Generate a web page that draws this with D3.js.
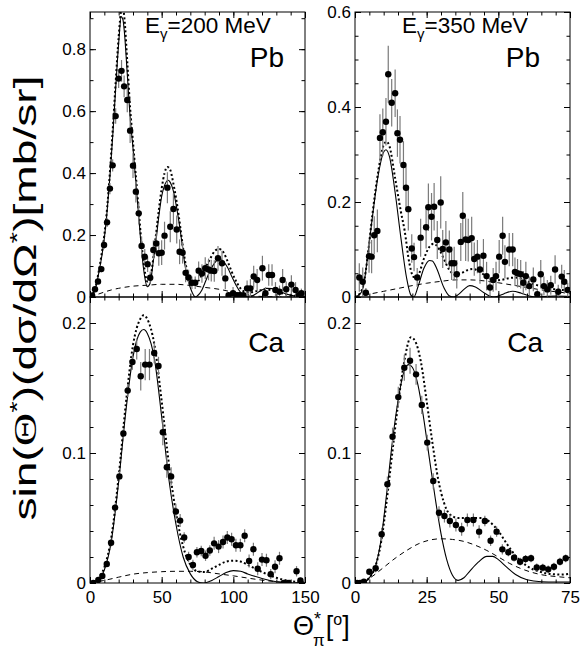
<!DOCTYPE html>
<html>
<head>
<meta charset="utf-8">
<script src="https://cdn.jsdelivr.net/npm/d3@7"></script>
<style>
  body { margin: 0; background: #fff; }
  svg { display: block; }
  text { font-family: "Liberation Sans", Arial, sans-serif; fill: #000; }
</style>
</head>
<body>
<svg id="chart" width="580" height="650"></svg>
<script>
(function () {
  'use strict';

  // ---- tick labels ----
  var xTicks200 = [0, 50, 100, 150];
  var xTicks350 = [0, 25, 50, 75];
  var yTicksPb200 = [0, 0.2, 0.4, 0.6, 0.8];
  var yTicksPb350 = [0, 0.2, 0.4, 0.6];
  var yTicksCa = [0, 0.1, 0.2];

  // ---- measured points: [theta, value, error] ----
  var pb200Points = [
    [1.5,0.005,0.004],[3.5,0.025,0.006],[5.6,0.05,0.008],[7.9,0.09,0.01],[9.8,0.168,0.012],
    [11.9,0.241,0.015],[13.9,0.35,0.018],[15.8,0.425,0.02],[17.9,0.584,0.025],[20,0.705,0.03],
    [22,0.73,0.035],[23.8,0.68,0.035],[26,0.636,0.04],[28,0.537,0.04],[30,0.424,0.04],
    [32,0.34,0.035],[34,0.27,0.035],[36,0.165,0.03],[38.2,0.13,0.025],[40.2,0.106,0.025],
    [42,0.062,0.02],[44.2,0.152,0.03],[46.2,0.173,0.035],[48,0.141,0.04],[50,0.143,0.04],
    [52,0.198,0.045],[54,0.353,0.05],[56,0.227,0.05],[58.2,0.284,0.05],[60.5,0.218,0.045],
    [62.5,0.146,0.04],[64.6,0.143,0.035],[66.7,0.078,0.03],[68.8,0.063,0.025],[71.1,0.046,0.02],
    [73.4,0.046,0.02],[75.8,0.085,0.03],[78.1,0.076,0.03],[80.4,0.093,0.035],[82.7,0.089,0.035],
    [84.6,0.085,0.035],[86.7,0.084,0.035],[89.3,0.125,0.04],[92.1,0.109,0.04],[94.4,0.06,0.035],
    [96.7,0.006,0.01],[99.8,0.012,0.02],[102.5,0.006,0.01],[104.4,0.006,0.012],[107,0.006,0.01],
    [109.6,0.028,0.025],[111.9,0.028,0.03],[114.2,0.066,0.035],[116.6,0.055,0.035],[120.3,0.093,0.04],
    [122.4,0.012,0.02],[124.7,0.071,0.035],[127,0.071,0.035],[129.4,0.023,0.025],[132.2,0.017,0.02],
    [134.4,0.055,0.035],[136.9,0.025,0.025],[140.5,0.04,0.03],[143.4,0.023,0.025],[145.7,0.006,0.015],
    [147.5,0.012,0.015]
  ];
  var pb350Points = [
    [1.5,0.041,0.03],[2.7,0.032,0.03],[3.8,0.009,0.01],[4.9,0.086,0.035],[5.8,0.085,0.035],
    [6.7,0.13,0.04],[7.8,0.139,0.045],[8.7,0.335,0.05],[9.7,0.347,0.05],[10.8,0.369,0.05],
    [11.6,0.469,0.06],[12.8,0.409,0.05],[14,0.429,0.05],[14.8,0.345,0.05],[15.7,0.331,0.05],
    [16.9,0.278,0.05],[17.8,0.23,0.045],[18.6,0.185,0.045],[19.8,0.102,0.03],[20.6,0.084,0.03],
    [21.7,0.041,0.02],[22.9,0.125,0.04],[24.8,0.147,0.045],[25.6,0.189,0.05],[26.7,0.169,0.05],
    [27.6,0.19,0.05],[28.7,0.12,0.04],[29.9,0.199,0.055],[30.6,0.101,0.04],[31.7,0.115,0.045],
    [32.9,0.1,0.04],[33.7,0.071,0.035],[34.6,0.071,0.035],[35.5,0.048,0.03],[36.9,0.116,0.04],
    [37.6,0.171,0.05],[38.6,0.121,0.045],[39.5,0.12,0.045],[40.7,0.124,0.045],[41.6,0.08,0.035],
    [42.7,0.085,0.035],[43.6,0.058,0.03],[44.8,0.087,0.035],[45.9,0.044,0.03],[47.1,0.02,0.02],
    [48.2,0.036,0.025],[49.2,0.044,0.03],[50.3,0.085,0.035],[51.5,0.129,0.04],[52.3,0.074,0.035],
    [53.8,0.1,0.035],[55,0.1,0.035],[55.8,0.053,0.03],[56.7,0.05,0.03],[57.8,0.048,0.03],
    [58.7,0.03,0.025],[59.6,0.044,0.03],[60.8,0.023,0.02],[62.2,0.037,0.025],[63.6,0.006,0.01],
    [64.8,0.048,0.03],[65.9,0.023,0.02],[67.1,0.016,0.02],[68.3,0.025,0.02],[69.8,0.058,0.03],
    [70.9,0.011,0.015],[72.1,0.043,0.025],[73,0.032,0.025],[74.2,0.015,0.015]
  ];
  var ca200Points = [
    [2.3,0,0.001],[5.8,0.0023,0.0015],[8.6,0.0054,0.002],[11.7,0.0146,0.002],[14.7,0.031,0.003],
    [17.5,0.058,0.003],[20.5,0.082,0.004],[23.3,0.115,0.004],[26.3,0.148,0.005],[29.6,0.17,0.006],
    [32.6,0.18,0.008],[35.4,0.159,0.011],[38.5,0.168,0.012],[41.5,0.168,0.012],[44.8,0.177,0.008],
    [47.8,0.167,0.007],[50.8,0.116,0.01],[53.6,0.089,0.008],[56.6,0.082,0.007],[59.9,0.055,0.006],
    [62.9,0.048,0.005],[65.7,0.035,0.004],[68.8,0.02,0.004],[71.8,0.0138,0.004],[74.6,0.0236,0.004],
    [77.6,0.0246,0.004],[80.6,0.021,0.004],[83.6,0.025,0.004],[86.6,0.0305,0.005],[89.7,0.028,0.005],
    [92.8,0.0315,0.005],[95.8,0.035,0.005],[98.8,0.0336,0.005],[101.8,0.029,0.005],[104.9,0.029,0.005],
    [107.9,0.0364,0.005],[111,0.017,0.005],[114,0.026,0.005],[117,0.011,0.005],[120,0.018,0.005],
    [123.1,0.0175,0.005],[126.1,0.0068,0.004],[129.1,0.0125,0.005],[132.2,0.019,0.005],[135.2,0,0.001],
    [138.2,0,0.001],[144.1,0.009,0.004],[146.8,0.002,0.002]
  ];
  var ca350Points = [
    [0.7,0,0.001],[1.8,0,0.001],[3.1,0.001,0.001],[5,0.0087,0.002],[7.2,0.0113,0.003],
    [9.3,0.0375,0.005],[11.3,0.076,0.006],[13.1,0.1125,0.007],[15.1,0.143,0.008],[17.2,0.1656,0.01],
    [19.2,0.171,0.01],[21.3,0.1605,0.008],[23.3,0.137,0.007],[25.2,0.108,0.006],[27.3,0.0785,0.006],
    [29.3,0.054,0.005],[31.2,0.0515,0.005],[33.1,0.0477,0.005],[35.2,0.0446,0.005],[37.2,0.0413,0.005],
    [39.2,0.0485,0.005],[41.3,0.0485,0.005],[43.3,0.0395,0.005],[45.3,0.0477,0.004],[47.3,0.0325,0.004],
    [49.4,0.0395,0.004],[51.4,0.0259,0.004],[53.5,0.0236,0.003],[55.5,0.0195,0.003],[57.6,0.0164,0.003],
    [59.5,0.0185,0.003],[61.4,0.019,0.003],[63.4,0.012,0.003],[65.5,0.0118,0.003],[67.4,0.0105,0.003],
    [69.4,0.0125,0.003],[71.5,0.0164,0.003],[73.5,0.019,0.003]
  ];

  // ---- model curves: [theta, value] ----
  var pb200Solid = [[0,0],[2,0.008],[4,0.03],[6,0.075],[8,0.125],[10,0.19],[12,0.28],[14,0.395],[16,0.53],
    [18,0.68],[20,0.82],[21.8,0.905],[23,0.895],[24,0.855],[26,0.72],[28,0.58],[30,0.48],[32,0.37],
    [34,0.26],[36,0.15],[38,0.07],[40,0.033],[42,0.045],[44,0.11],[46,0.18],[48,0.26],[50,0.325],
    [52,0.36],[54.5,0.377],[56,0.37],[58,0.345],[60,0.3],[62,0.245],[64,0.18],[66,0.11],[68,0.06],
    [70,0.03],[72,0.008],[73.5,0],[75,0.004],[78,0.022],[81,0.055],[84,0.087],[87,0.11],[90.5,0.125],
    [93,0.115],[96,0.095],[99,0.065],[102,0.037],[105,0.015],[108,0.003],[111,0],[115,0.008],
    [119,0.02],[123,0.028],[127,0.027],[131,0.021],[135,0.013],[140,0.006],[145,0.002],[150,0]];
  var pb200Dotted = [[0,0],[2,0.01],[4,0.035],[6,0.08],[8,0.135],[10,0.2],[12,0.29],[14,0.41],[16,0.55],
    [18,0.7],[20,0.84],[22,0.93],[23,0.935],[24,0.9],[26,0.76],[28,0.61],[30,0.5],[32,0.39],[34,0.28],
    [36,0.17],[38,0.09],[40,0.05],[42,0.06],[44,0.12],[46,0.2],[48,0.28],[50,0.35],[52,0.4],[54,0.42],
    [56,0.41],[58,0.37],[60,0.32],[62,0.26],[64,0.19],[66,0.125],[68,0.08],[70,0.052],[72,0.042],
    [74,0.045],[77,0.062],[80,0.09],[84,0.125],[87,0.148],[90,0.155],[93,0.145],[96,0.115],[99,0.08],
    [102,0.05],[105,0.028],[108,0.017],[112,0.015],[117,0.02],[122,0.024],[127,0.022],[132,0.015],
    [138,0.007],[144,0.003],[150,0.001]];
  var pb200Dashed = [[0,0],[5,0.008],[10,0.016],[15,0.023],[20,0.028],[30,0.035],[40,0.038],[50,0.041],
    [60,0.041],[70,0.037],[80,0.031],[90,0.025],[100,0.015],[107,0.007],[115,0.003],[125,0.001],
    [135,0],[150,0]];

  var pb350Solid = [[0,0],[2,0.008],[3,0.025],[4.5,0.09],[6,0.165],[8,0.253],[10,0.305],[10.8,0.31],
    [12,0.296],[14,0.22],[16,0.125],[18,0.04],[19.5,0.004],[20.5,0],[22,0.022],[24,0.06],[26,0.077],
    [27,0.076],[28.5,0.06],[31,0.02],[33,0.002],[34.5,0],[36,0.005],[38,0.016],[40,0.024],[42,0.021],
    [45,0.009],[47,0.002],[48.5,0],[50,0.002],[52,0.007],[55,0.012],[58,0.008],[61,0.002],[63,0],
    [66,0.001],[70,0.002],[75,0.001]];
  var pb350Dotted = [[0,0],[2,0.01],[3,0.027],[4.5,0.09],[6,0.17],[8,0.26],[10,0.32],[11,0.327],[12,0.318],
    [14,0.25],[16,0.18],[17.3,0.14],[19,0.07],[20.5,0.042],[22,0.046],[24,0.08],[26,0.106],[27.5,0.112],
    [29.5,0.099],[31,0.08],[33,0.056],[35,0.047],[37,0.05],[39,0.056],[41,0.059],[43,0.055],[45,0.047],
    [47,0.039],[49,0.035],[51,0.036],[54,0.04],[56,0.041],[59,0.036],[62,0.028],[66,0.021],[70,0.016],
    [75,0.014]];
  var pb350Dashed = [[0,0],[5,0.006],[10,0.012],[15,0.018],[20,0.024],[25,0.029],[30,0.033],[35,0.036],
    [40,0.036],[45,0.034],[50,0.03],[55,0.025],[60,0.02],[65,0.015],[70,0.011],[75,0.008]];

  var ca200Solid = [[0,0],[5,0.002],[10,0.01],[15,0.033],[20,0.078],[25,0.132],[30,0.174],[35,0.193],
    [37.5,0.195],[40,0.192],[45,0.172],[50,0.128],[55,0.08],[60,0.045],[65,0.02],[70,0.007],[75,0.001],
    [79,0],[85,0.002],[90,0.005],[95,0.008],[100,0.0095],[105,0.009],[110,0.007],[120,0.0035],
    [130,0.001],[140,0],[150,0]];
  var ca200Dotted = [[0,0],[5,0.003],[10,0.012],[15,0.036],[20,0.082],[25,0.138],[30,0.183],[35,0.203],
    [37.5,0.206],[40,0.203],[45,0.183],[50,0.14],[55,0.092],[60,0.054],[65,0.028],[70,0.014],[75,0.009],
    [80,0.0085],[85,0.011],[90,0.014],[95,0.0165],[100,0.0172],[105,0.0165],[110,0.014],[120,0.0085],
    [130,0.004],[140,0.0015],[150,0.0005]];
  var ca200Dashed = [[0,0],[10,0.002],[20,0.0045],[30,0.0068],[40,0.008],[50,0.0087],[60,0.009],
    [70,0.009],[80,0.0085],[90,0.007],[100,0.0055],[110,0.0038],[120,0.0022],[130,0.001],[140,0.0003],
    [150,0]];

  var ca350Solid = [[0,0],[3,0.001],[5,0.004],[7,0.012],[9,0.032],[11,0.068],[13,0.108],[15,0.14],
    [17,0.162],[18.7,0.168],[20,0.166],[22,0.152],[24,0.126],[26,0.095],[28,0.065],[30,0.038],
    [32,0.018],[34,0.006],[36,0.002],[38,0.004],[40,0.009],[43,0.016],[46,0.0205],[48,0.0205],
    [50,0.018],[53,0.012],[56,0.0065],[60,0.0025],[65,0.001],[70,0.0008],[75,0.0008]];
  var ca350Dotted = [[0,0],[3,0.001],[5,0.004],[7,0.012],[9,0.03],[11,0.062],[13,0.1],[15,0.137],
    [17,0.168],[19.5,0.189],[21,0.186],[23,0.17],[25,0.14],[27,0.108],[29,0.08],[31,0.062],[33,0.053],
    [36,0.05],[40,0.05],[44,0.05],[47,0.047],[50,0.04],[53,0.03],[56,0.021],[60,0.013],[64,0.009],
    [68,0.007],[72,0.0065],[75,0.007]];
  var ca350Dashed = [[0,0],[3,0.0005],[6,0.005],[10,0.012],[14,0.019],[18,0.025],[22,0.03],[26,0.033],
    [30,0.034],[34,0.0335],[38,0.032],[42,0.029],[46,0.025],[50,0.02],[54,0.015],[58,0.011],[62,0.008],
    [66,0.006],[70,0.005],[75,0.004]];

  var svg = d3.select('#chart');
  svg.append('rect').attr('width', 580).attr('height', 650).attr('fill', '#fff');

  var panels = [
    { pts: pb200Points, solid: pb200Solid, dotted: pb200Dotted, dashed: pb200Dashed,
      xMax: 150, xTicks: xTicks200, xMinor: 10, yMax: 0.92, yTicks: yTicksPb200, yMinor: 0.1,
      left: 90, right: 305, top: 12, bottom: 297, xLabels: false,
      target: 'Pb', energy: '200', energyX: 145, targetX: 284 },
    { pts: pb350Points, solid: pb350Solid, dotted: pb350Dotted, dashed: pb350Dashed,
      xMax: 75, xTicks: xTicks350, xMinor: 5, yMax: 0.6, yTicks: yTicksPb350, yMinor: 0.05,
      left: 355, right: 570, top: 12, bottom: 297, xLabels: false,
      target: 'Pb', energy: '350', energyX: 402, targetX: 540 },
    { pts: ca200Points, solid: ca200Solid, dotted: ca200Dotted, dashed: ca200Dashed,
      xMax: 150, xTicks: xTicks200, xMinor: 10, yMax: 0.22, yTicks: yTicksCa, yMinor: 0.02,
      left: 90, right: 305, top: 297, bottom: 583, xLabels: true,
      target: 'Ca', targetX: 284 },
    { pts: ca350Points, solid: ca350Solid, dotted: ca350Dotted, dashed: ca350Dashed,
      xMax: 75, xTicks: xTicks350, xMinor: 5, yMax: 0.22, yTicks: yTicksCa, yMinor: 0.02,
      left: 355, right: 570, top: 297, bottom: 583, xLabels: true,
      target: 'Ca', targetX: 543 }
  ];

  function fmt(d) { return d === 0 ? '0' : String(d); }
  function none() { return ''; }

  function addAxis(g, axis, tx, ty) {
    g.append('g').attr('transform', 'translate(' + tx + ',' + ty + ')')
      .call(axis)
      .call(function (s) {
        s.select('.domain').remove();
        s.selectAll('line').attr('stroke', '#000').attr('stroke-width', 1);
        s.selectAll('text').attr('font-family', '"Liberation Sans", Arial, sans-serif')
          .attr('font-size', 17).attr('fill', '#000');
      });
  }

  panels.forEach(function (p, i) {
    var x = d3.scaleLinear().domain([0, p.xMax]).range([p.left, p.right]);
    var y = d3.scaleLinear().domain([0, p.yMax]).range([p.bottom, p.top]);
    var g = svg.append('g');

    var clipId = 'clip' + i;
    svg.append('clipPath').attr('id', clipId).append('rect')
      .attr('x', p.left).attr('y', p.top)
      .attr('width', p.right - p.left).attr('height', p.bottom - p.top);

    var minorX = d3.range(0, p.xMax + 1e-9, p.xMinor);
    var minorY = d3.range(0, p.yMax + 1e-9, p.yMinor);
    var W = p.right - p.left;
    var H = p.bottom - p.top;

    // minor ticks on all four sides
    addAxis(g, d3.axisBottom(x).tickValues(minorX).tickSize(-3.5).tickFormat(none), 0, p.bottom);
    addAxis(g, d3.axisTop(x).tickValues(minorX).tickSize(-3.5).tickFormat(none), 0, p.top);
    addAxis(g, d3.axisLeft(y).tickValues(minorY).tickSize(-3.5).tickFormat(none), p.left, 0);
    addAxis(g, d3.axisRight(y).tickValues(minorY).tickSize(-3.5).tickFormat(none), p.right, 0);
    // major ticks
    addAxis(g, d3.axisBottom(x).tickValues(p.xTicks).tickSize(-6).tickPadding(8)
      .tickFormat(p.xLabels ? fmt : none), 0, p.bottom);
    addAxis(g, d3.axisTop(x).tickValues(p.xTicks).tickSize(-6).tickFormat(none), 0, p.top);
    addAxis(g, d3.axisLeft(y).tickValues(p.yTicks).tickSize(-6).tickPadding(4).tickFormat(fmt), p.left, 0);
    addAxis(g, d3.axisRight(y).tickValues(p.yTicks).tickSize(-6).tickFormat(none), p.right, 0);

    g.append('rect').attr('x', p.left).attr('y', p.top).attr('width', W).attr('height', H)
      .attr('fill', 'none').attr('stroke', '#000').attr('stroke-width', 1);

    var plot = g.append('g').attr('clip-path', 'url(#' + clipId + ')');
    var line = d3.line()
      .x(function (d) { return x(d[0]); })
      .y(function (d) { return y(d[1]); })
      .curve(d3.curveMonotoneX);

    plot.append('path').datum(p.dashed).attr('d', line).attr('fill', 'none')
      .attr('stroke', '#000').attr('stroke-width', 1).attr('stroke-dasharray', '5,4');
    plot.append('path').datum(p.dotted).attr('d', line).attr('fill', 'none')
      .attr('stroke', '#000').attr('stroke-width', 2).attr('stroke-dasharray', '2,2.4');
    plot.append('path').datum(p.solid).attr('d', line).attr('fill', 'none')
      .attr('stroke', '#000').attr('stroke-width', 1.1);

    // error bars
    plot.selectAll('.err').data(p.pts).enter().append('line')
      .attr('class', 'err')
      .attr('x1', function (d) { return x(d[0]); })
      .attr('x2', function (d) { return x(d[0]); })
      .attr('y1', function (d) { return y(d[1] - d[2]); })
      .attr('y2', function (d) { return y(d[1] + d[2]); })
      .attr('stroke', '#7a7a7a').attr('stroke-width', 1.2);

    plot.selectAll('.pt').data(p.pts).enter().append('circle')
      .attr('class', 'pt')
      .attr('cx', function (d) { return x(d[0]); })
      .attr('cy', function (d) { return y(d[1]); })
      .attr('r', 3.2).attr('fill', '#000');

    // labels
    g.append('text').attr('x', p.targetX).attr('y', p.top + 55)
      .attr('text-anchor', 'end').attr('font-size', 28).text(p.target);
    if (p.energy) {
      var t = g.append('text').attr('x', p.energyX).attr('y', 33).attr('font-size', 22.5);
      t.append('tspan').text('E');
      t.append('tspan').attr('font-size', 15).attr('dy', 6).text('γ');
      t.append('tspan').attr('dy', -6).text('=' + p.energy + ' MeV');
    }
  });

  // y axis title
  var yt = svg.append('text')
    .attr('transform', 'translate(36,298) rotate(-90)')
    .attr('text-anchor', 'middle').attr('font-size', 31)
    .attr('textLength', 445).attr('lengthAdjust', 'spacingAndGlyphs');
  yt.append('tspan').text('sin(');
  yt.append('tspan').attr('font-family', '"Liberation Serif", "Times New Roman", serif').text('Θ');
  yt.append('tspan').attr('font-size', 20).attr('dy', -12).text('*');
  yt.append('tspan').attr('dy', 12).text(')(dσ/dΩ');
  yt.append('tspan').attr('font-size', 20).attr('dy', -12).text('*');
  yt.append('tspan').attr('dy', 12).text(')[mb/sr]');

  // x axis title
  var xt = svg.append('text').attr('x', 293).attr('y', 635)
    .attr('font-family', '"Liberation Serif", "Times New Roman", serif').attr('font-size', 27);
  xt.append('tspan').text('Θ');
  xt.append('tspan').attr('font-size', 18).attr('dy', -10)
    .attr('font-family', '"Liberation Sans", Arial, sans-serif').text('*');
  xt.append('tspan').attr('font-size', 17).attr('dx', -8).attr('dy', 21).text('π');
  xt.append('tspan').attr('dx', 1).attr('dy', -11).text('[');
  xt.append('tspan').attr('font-size', 16).attr('dy', -10)
    .attr('font-family', '"Liberation Sans", Arial, sans-serif').text('o');
  xt.append('tspan').attr('dy', 10).text(']');
})();
</script>
</body>
</html>
